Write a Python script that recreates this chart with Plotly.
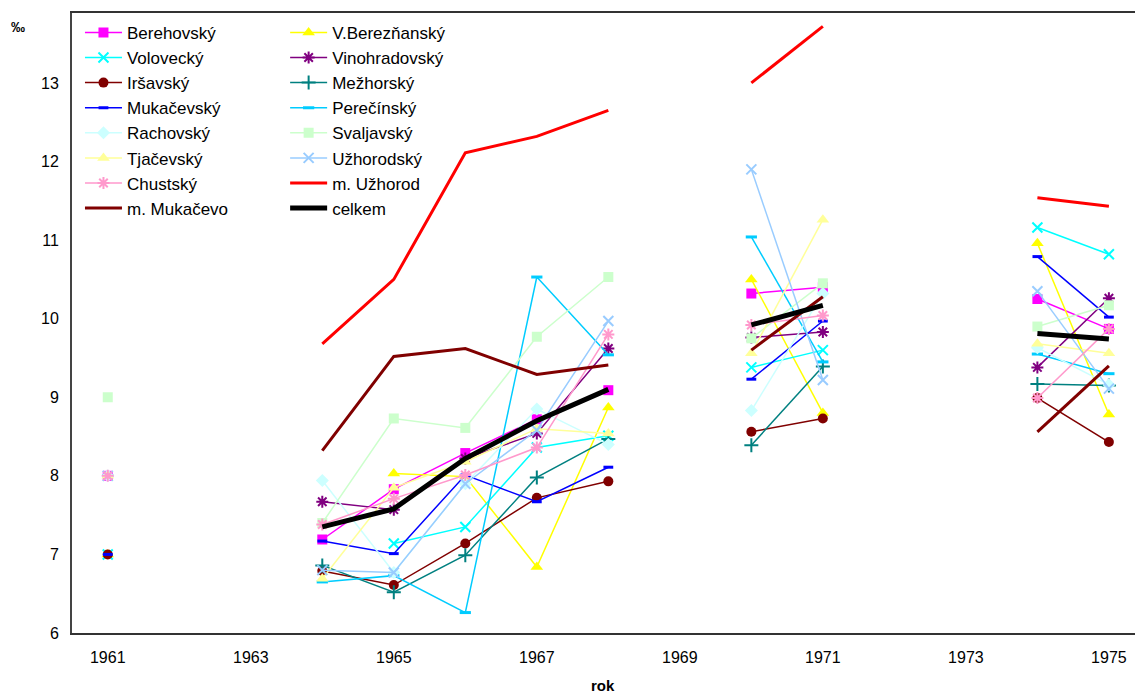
import plotly.graph_objects as go

years = list(range(1961, 1976))

def row(d):
    return [d.get(y) for y in years]

berehovsky   = row({1961: 8, 1964: 7.19, 1965: 7.83, 1966: 8.29, 1967: 8.72, 1968: 9.09, 1970: 10.32, 1971: 10.40, 1974: 10.25, 1975: 9.87})
vberezniansky = row({1961: 7, 1965: 8.03, 1966: 7.99, 1967: 6.84, 1968: 8.87, 1970: 10.50, 1971: 8.80, 1974: 10.96, 1975: 8.78})
volovecky    = row({1961: 7, 1965: 7.14, 1966: 7.35, 1967: 8.36, 1968: 8.51, 1970: 9.38, 1971: 9.60, 1974: 11.16, 1975: 10.82})
vinohradovsky = row({1964: 7.67, 1965: 7.57, 1966: 8.22, 1967: 8.54, 1968: 9.62, 1970: 9.76, 1971: 9.83, 1974: 9.38, 1975: 10.26})
irsavsky     = row({1961: 7, 1964: 6.79, 1965: 6.61, 1966: 7.14, 1967: 7.72, 1968: 7.93, 1970: 8.56, 1971: 8.73, 1974: 8.99, 1975: 8.43})
mezhorsky    = row({1964: 6.86, 1965: 6.52, 1966: 6.99, 1967: 7.98, 1968: 8.47, 1970: 8.39, 1971: 9.39, 1974: 9.17, 1975: 9.15})
mukacevsky   = row({1961: 7, 1964: 7.17, 1965: 7.01, 1966: 8.01, 1967: 7.67, 1968: 8.11, 1970: 9.23, 1971: 9.97, 1974: 10.79, 1975: 10.02})
perecinsky   = row({1961: 8, 1964: 6.65, 1965: 6.73, 1966: 6.26, 1967: 10.53, 1968: 9.54, 1970: 11.04, 1971: 9.45, 1974: 9.55, 1975: 9.30})
rachovsky    = row({1961: 8, 1964: 7.94, 1965: 6.77, 1966: 7.90, 1967: 8.85, 1968: 8.40, 1970: 8.83, 1971: 10.32, 1974: 9.63, 1975: 9.16})
svaljavsky   = row({1961: 9, 1964: 7.40, 1965: 8.73, 1966: 8.61, 1967: 9.77, 1968: 10.53, 1970: 9.75, 1971: 10.45, 1974: 9.90, 1975: 10.17})
tjacevsky    = row({1961: 8, 1964: 6.69, 1965: 7.85, 1966: 8.18, 1967: 8.60, 1968: 8.54, 1970: 9.56, 1971: 11.26, 1974: 9.68, 1975: 9.56})
uzhorodsky   = row({1961: 8, 1964: 6.80, 1965: 6.77, 1966: 7.90, 1967: 8.58, 1968: 9.97, 1970: 11.90, 1971: 9.22, 1974: 10.35, 1975: 9.11})
chustsky     = row({1961: 8, 1964: 7.38, 1965: 7.71, 1966: 8.01, 1967: 8.36, 1968: 9.80, 1970: 9.92, 1971: 10.04, 1974: 8.99, 1975: 9.87})
m_uzhorod    = row({1964: 9.68, 1965: 10.50, 1966: 12.11, 1967: 12.32, 1968: 12.65, 1970: 13.00, 1971: 13.72, 1974: 11.54, 1975: 11.43})
m_mukacevo   = row({1964: 8.32, 1965: 9.52, 1966: 9.62, 1967: 9.29, 1968: 9.41, 1970: 9.60, 1971: 10.28, 1974: 8.56, 1975: 9.40})
celkem       = row({1964: 7.35, 1965: 7.58, 1966: 8.22, 1967: 8.70, 1968: 9.10, 1970: 9.92, 1971: 10.17, 1974: 9.81, 1975: 9.74})

x_ticks = [1961, 1963, 1965, 1967, 1969, 1971, 1973, 1975]
y_ticks = [6, 7, 8, 9, 10, 11, 12, 13]

# name, data, color, symbol, marker size, line width, legend
series = [
    ("Berehovský", berehovsky, "#FF00FF", "square", 10, 1.5, "legend"),
    ("V.Berezňanský", vberezniansky, "#FFFF00", "triangle-up", 11, 1.5, "legend2"),
    ("Volovecký", volovecky, "#00FFFF", "x-thin", 10, 1.5, "legend"),
    ("Vinohradovský", vinohradovsky, "#800080", "asterisk", 10, 1.5, "legend2"),
    ("Iršavský", irsavsky, "#800000", "circle", 10, 1.5, "legend"),
    ("Mežhorský", mezhorsky, "#008080", "cross-thin", 10, 1.5, "legend2"),
    ("Mukačevský", mukacevsky, "#0000FF", "line-ew", 7, 1.5, "legend"),
    ("Perečínský", perecinsky, "#00CCFF", "line-ew", 8, 1.5, "legend2"),
    ("Rachovský", rachovsky, "#CCFFFF", "diamond", 10, 1.5, "legend"),
    ("Svaljavský", svaljavsky, "#CCFFCC", "square", 10, 1.5, "legend2"),
    ("Tjačevský", tjacevsky, "#FFFF99", "triangle-up", 11, 1.5, "legend"),
    ("Užhorodský", uzhorodsky, "#99CCFF", "x-thin", 10, 1.5, "legend2"),
    ("Chustský", chustsky, "#FF99CC", "asterisk", 10, 1.5, "legend"),
    ("m. Užhorod", m_uzhorod, "#FF0000", None, 0, 3, "legend2"),
    ("m. Mukačevo", m_mukacevo, "#800000", None, 0, 3, "legend"),
    ("celkem", celkem, "#000000", None, 0, 5, "legend2"),
]

fig = go.Figure()
open_like = {"x-thin", "asterisk", "cross-thin", "line-ew"}
for name, data, color, sym, size, lw, leg in series:
    if sym is None:
        mode = "lines"
        marker = None
    else:
        mode = "lines+markers"
        if sym in open_like:
            marker = dict(symbol=sym, size=size, color=color,
                          line=dict(color=color, width=2 if sym != "line-ew" else 3))
        else:
            marker = dict(symbol=sym, size=size, color=color, line=dict(width=0))
    fig.add_trace(go.Scatter(
        x=years, y=data, name=name, mode=mode,
        line=dict(color=color, width=lw),
        marker=marker, connectgaps=False, legend=leg,
    ))

font_family = "Arial, Liberation Sans, sans-serif"
legend_common = dict(
    font=dict(family=font_family, size=17, color="#000"),
    bgcolor="rgba(0,0,0,0)", borderwidth=0,
    itemwidth=37, tracegroupgap=0,
    xanchor="left", yanchor="top", yref="paper", xref="paper",
)

fig.update_layout(
    width=1135, height=693,
    margin=dict(l=72, r=0, t=13, b=60),
    paper_bgcolor="white", plot_bgcolor="white",
    font=dict(family=font_family, size=14, color="#000"),
    showlegend=True,
    legend=dict(x=0.0075, y=0.997, **legend_common),
    legend2=dict(x=0.2005, y=0.997, **legend_common),
    xaxis=dict(
        range=[1960.5, 1975.365], tickvals=x_ticks, ticktext=[str(t) for t in x_ticks],
        showgrid=False, zeroline=False, showline=True, linecolor="#333", linewidth=2,
        mirror=True, ticks="", ticklabelstandoff=9, automargin=False,
        tickfont=dict(family=font_family, size=16),
    ),
    yaxis=dict(
        range=[6, 13.89], tickvals=y_ticks, ticktext=[str(t) for t in y_ticks],
        showgrid=False, zeroline=False, showline=True, linecolor="#444", linewidth=2,
        ticks="", ticklabelstandoff=8, automargin=False,
        tickfont=dict(family=font_family, size=16),
    ),
    annotations=[
        dict(text="<b>‰</b>", x=(18 - 72) / 1063, y=1 - (27 - 13) / 620,
             xref="paper", yref="paper", xanchor="center", yanchor="middle",
             showarrow=False, font=dict(family=font_family, size=14)),
        dict(text="<b>rok</b>", x=(603 - 72) / 1063, y=-(685 - 633) / 620,
             xref="paper", yref="paper", xanchor="center", yanchor="middle",
             showarrow=False, font=dict(family=font_family, size=15)),
    ],
)

fig.write_html("out.html", config={"displayModeBar": False},
               post_script="document.body.style.margin='0';")
